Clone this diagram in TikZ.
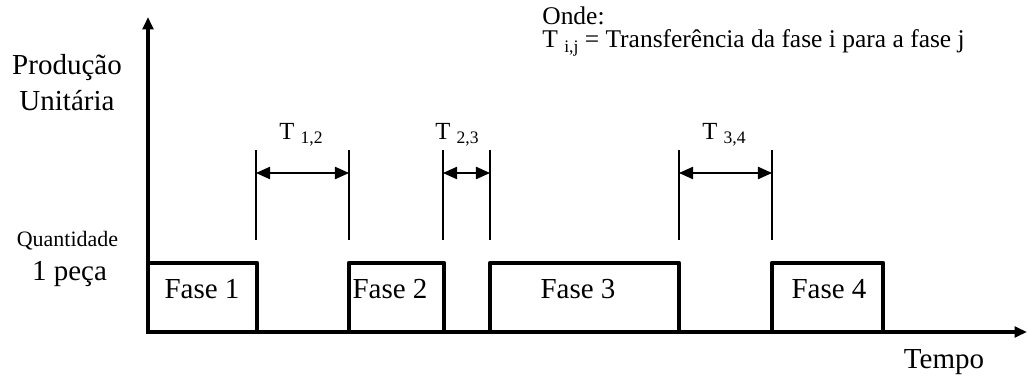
\documentclass[tikz,border=0pt]{standalone}
\usepackage{fontspec}
\setmainfont{Liberation Serif}
\usetikzlibrary{arrows.meta}
\tikzset{>={Triangle[length=7pt,width=6pt]}}
\tikzset{
  eixo/.style={line width=2pt},
  fase/.style={line width=2.6pt,line join=round},
  cota/.style={line width=0.8pt},
  seta/.style={cota,{Triangle[length=8pt,width=7pt]}-{Triangle[length=8pt,width=7pt]}},
  rotulo/.style={font=\fontsize{16.5}{19}\selectfont,inner sep=0pt},
  nota/.style={font=\fontsize{14.5}{17}\selectfont,inner sep=0pt},
  tlabel/.style={font=\fontsize{14}{16}\selectfont,inner sep=0pt,anchor=base},
}
% T com indice rebaixado
\newcommand{\transf}[1]{T \raisebox{-2.8pt}{\fontsize{10}{12}\selectfont #1}}

\begin{document}
\begin{tikzpicture}
\useasboundingbox (0,0) rectangle (20.56,7.5);
% eixos
\coordinate (y0) at (2.96,0.82);
\coordinate (ytop) at (2.96,7.16);
\coordinate (x0) at (2.92,0.86);
\coordinate (xend) at (20.54,0.86);
\draw[eixo,->] (y0) -- (ytop);
\draw[eixo,->] (x0) -- (xend);
\node[rotulo,anchor=base] (prod) at (1.34,6.0) {Produção};
\node[rotulo,anchor=base] (unit) at (1.34,5.3) {Unitária};
\node[font=\fontsize{12.5}{15}\selectfont,inner sep=0pt,anchor=base] (qtd) at (1.35,2.58) {Quantidade};
\node[rotulo,anchor=base] (peca) at (1.39,1.9) {1 peça};
\node[rotulo,anchor=base] (tempo) at (18.88,0.14) {Tempo};
% fases
\draw[fase] (2.96,2.24) -- (5.14,2.24) -- (5.14,0.86);
\draw[fase] (6.98,0.86) -- (6.98,2.24) -- (8.88,2.24) -- (8.88,0.86);
\draw[fase] (9.8,0.86) -- (9.8,2.24) -- (13.58,2.24) -- (13.58,0.86);
\draw[fase] (15.44,0.86) -- (15.44,2.24) -- (17.66,2.24) -- (17.66,0.86);
\node[rotulo,anchor=base] (f1) at (4.04,1.54) {Fase 1};
\node[rotulo,anchor=base] (f2) at (7.8,1.54) {Fase 2};
\node[rotulo,anchor=base] (f3) at (11.56,1.54) {Fase 3};
\node[rotulo,anchor=base] (f4) at (16.58,1.54) {Fase 4};
% cotas das transferencias
\draw[cota] (5.12,2.7) -- (5.12,4.5);
\draw[cota] (6.98,2.7) -- (6.98,4.5);
\draw[cota] (8.86,2.7) -- (8.86,4.5);
\draw[cota] (9.8,2.7) -- (9.8,4.5);
\draw[cota] (13.58,2.7) -- (13.58,4.5);
\draw[cota] (15.44,2.7) -- (15.44,4.5);
\coordinate (a1) at (5.12,4.04);
\coordinate (b1) at (6.98,4.04);
\coordinate (a2) at (8.86,4.04);
\coordinate (b2) at (9.8,4.04);
\coordinate (a3) at (13.58,4.04);
\coordinate (b3) at (15.44,4.04);
\draw[seta] (a1) -- (b1);
\draw[seta] (a2) -- (b2);
\draw[seta] (a3) -- (b3);
\node[tlabel] (t12) at (6.02,4.72) {\transf{1,2}};
\node[tlabel] (t23) at (9.14,4.72) {\transf{2,3}};
\node[tlabel] (t34) at (14.48,4.72) {\transf{3,4}};
% legenda
\node[nota,anchor=base west] (onde) at (10.84,7.0) {Onde:};
\node[nota,anchor=base west] (leg) at (10.84,6.54) {\transf{i,j} = Transferência da fase i para a fase j};
\end{tikzpicture}
\end{document}
